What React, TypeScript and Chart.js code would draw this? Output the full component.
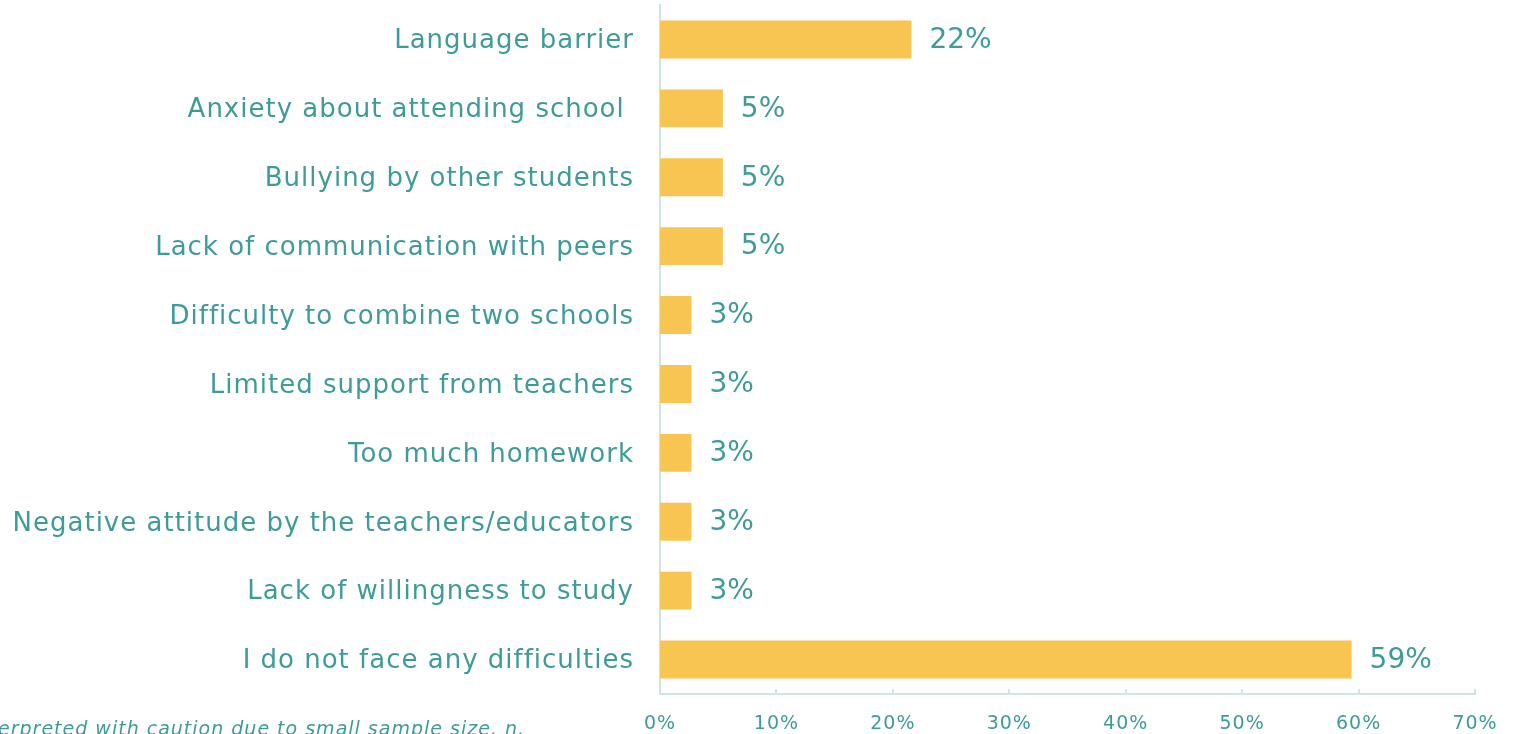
import React, { useEffect, useRef } from "react";
import { Chart, registerables } from "chart.js";

Chart.register(...registerables);

const categories = [
  "Language barrier",
  "Anxiety about attending school ",
  "Bullying by other students",
  "Lack of communication with peers",
  "Difficulty to combine two schools",
  "Limited support from teachers",
  "Too much homework",
  "Negative attitude by the teachers/educators",
  "Lack of willingness to study",
  "I do not face any difficulties",
];
const values = [21.6, 5.4, 5.4, 5.4, 2.7, 2.7, 2.7, 2.7, 2.7, 59.4];
const xTicks = [0, 10, 20, 30, 40, 50, 60, 70];
const footnote = "Results should be interpreted with caution due to small sample size, n.";

const TEXT = "#3e9c98";
const BAR = "#f8c452";
const AXIS = "#cde5e4";
const FONT = "'DejaVu Sans', sans-serif";

export default function App() {
  const ref = useRef<HTMLCanvasElement | null>(null);
  useEffect(() => {
    if (!ref.current) return;
    const spacing = {
      id: "spacing",
      beforeDraw(chart: any) {
        chart.ctx.letterSpacing = "1px";
      },
    };
    const valueLabels = {
      id: "valueLabels",
      afterDatasetsDraw(chart: any) {
        const ctx = chart.ctx;
        const meta = chart.getDatasetMeta(0);
        ctx.save();
        ctx.letterSpacing = "0px";
        ctx.fillStyle = TEXT;
        ctx.font = `normal 28px ${FONT}`;
        ctx.textAlign = "left";
        ctx.textBaseline = "middle";
        meta.data.forEach((el: any, i: number) => {
          ctx.fillText(Math.round(values[i]) + "%", el.x + 18, el.y + 1);
        });
        ctx.restore();
      },
    };
    const innerTicks = {
      id: "innerTicks",
      afterDraw(chart: any) {
        const ctx = chart.ctx;
        const xs = chart.scales.x;
        const bottom = chart.chartArea.bottom;
        ctx.save();
        ctx.strokeStyle = AXIS;
        ctx.lineWidth = 2;
        xTicks.forEach((t) => {
          const px = Math.round(xs.getPixelForValue(t));
          ctx.beginPath();
          ctx.moveTo(px, bottom - 5);
          ctx.lineTo(px, bottom);
          ctx.stroke();
        });
        ctx.restore();
      },
    };
    const chart = new Chart(ref.current, {
      type: "bar",
      data: {
        labels: categories,
        datasets: [
          {
            data: values,
            backgroundColor: BAR,
            borderWidth: 0,
            barPercentage: 0.55,
            categoryPercentage: 1,
          },
        ],
      },
      plugins: [spacing, valueLabels, innerTicks],
      options: {
        indexAxis: "y",
        animation: false,
        responsive: false,
        layout: { padding: { top: 5, right: 38, left: 0, bottom: 0 } },
        plugins: { legend: { display: false }, tooltip: { enabled: false } },
        scales: {
          x: {
            min: 0,
            max: 70,
            afterBuildTicks(scale: any) {
              scale.ticks = xTicks.map((v) => ({ value: v }));
            },
            afterFit(scale: any) {
              scale.height = 40;
              scale.paddingLeft = 0;
              scale.paddingRight = 0;
            },
            grid: { display: false, drawTicks: false },
            border: { display: true, color: AXIS, width: 2 },
            ticks: {
              color: TEXT,
              padding: 19,
              font: { family: FONT, size: 19, weight: "normal" },
              callback: (v: any) => v + "%",
            },
          },
          y: {
            afterFit(scale: any) {
              scale.width = 660;
              scale.paddingTop = 0;
              scale.paddingBottom = 0;
            },
            grid: { display: false, drawTicks: false },
            border: { display: true, color: AXIS, width: 2 },
            ticks: {
              color: TEXT,
              padding: 26,
              labelOffset: 2,
              font: { family: FONT, size: 26, weight: "normal" },
            },
          },
        },
      },
    });
    return () => chart.destroy();
  }, []);
  return (
    <div style={{ position: "fixed", left: 0, top: 0, width: 1513, height: 734, overflow: "hidden", background: "#fff" }}>
      <canvas ref={ref} width={1513} height={734} style={{ display: "block" }} />
      <div
        style={{
          position: "absolute",
          right: 1513 - 525,
          top: 718,
          lineHeight: "20px",
          whiteSpace: "nowrap",
          fontFamily: FONT,
          fontStyle: "italic",
          fontWeight: "normal",
          fontSize: 19,
          letterSpacing: "1px",
          color: TEXT,
        }}
      >
        {footnote}
      </div>
    </div>
  );
}
